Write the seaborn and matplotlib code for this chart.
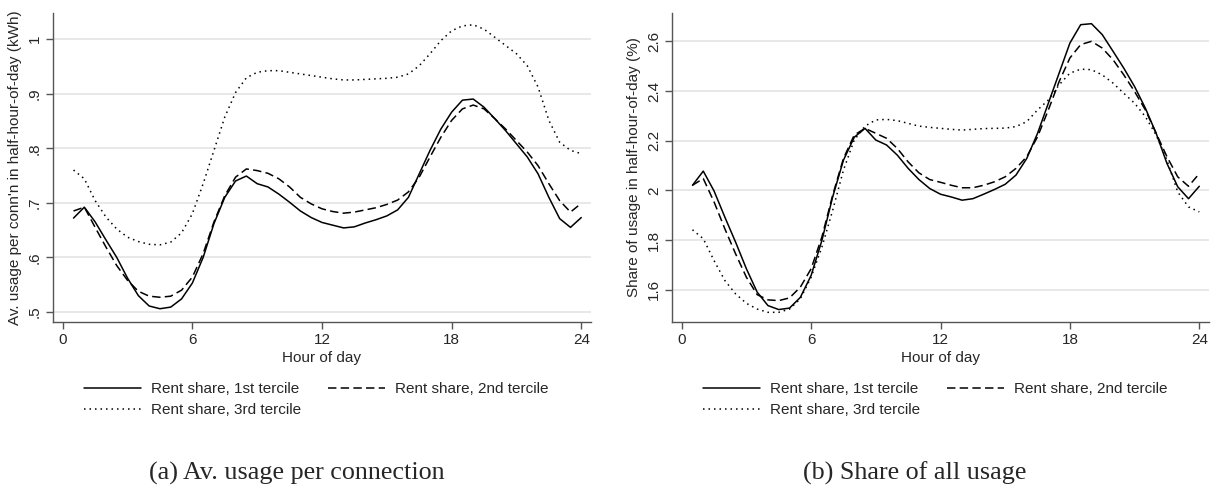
import numpy as np
import pandas as pd
import matplotlib
matplotlib.use("Agg")
import matplotlib.pyplot as plt
import seaborn as sns

# half-hour of day (end of each half-hour slot)
hours = [0.5, 1.0, 1.5, 2.0, 2.5, 3.0, 3.5, 4.0, 4.5, 5.0, 5.5, 6.0,
         6.5, 7.0, 7.5, 8.0, 8.5, 9.0, 9.5, 10.0, 10.5, 11.0, 11.5, 12.0,
         12.5, 13.0, 13.5, 14.0, 14.5, 15.0, 15.5, 16.0, 16.5, 17.0, 17.5, 18.0,
         18.5, 19.0, 19.5, 20.0, 20.5, 21.0, 21.5, 22.0, 22.5, 23.0, 23.5, 24.0]

series_names = ["Rent share, 1st tercile", "Rent share, 2nd tercile", "Rent share, 3rd tercile"]

# (a) average usage per connection (kWh)
usage_t1 = [0.672, 0.692, 0.665, 0.632, 0.600, 0.562, 0.530, 0.511, 0.506, 0.509, 0.524, 0.553,
            0.600, 0.662, 0.710, 0.740, 0.749, 0.735, 0.729, 0.716, 0.701, 0.685, 0.673, 0.664,
            0.659, 0.654, 0.656, 0.663, 0.669, 0.676, 0.687, 0.710, 0.753, 0.796, 0.835, 0.866,
            0.888, 0.890, 0.875, 0.854, 0.832, 0.808, 0.784, 0.753, 0.710, 0.671, 0.655, 0.673]
usage_t2 = [0.685, 0.692, 0.655, 0.619, 0.585, 0.558, 0.538, 0.529, 0.527, 0.529, 0.540, 0.564,
            0.607, 0.665, 0.713, 0.747, 0.762, 0.759, 0.754, 0.744, 0.729, 0.710, 0.698, 0.689,
            0.684, 0.681, 0.683, 0.687, 0.691, 0.697, 0.705, 0.720, 0.747, 0.784, 0.820, 0.851,
            0.872, 0.879, 0.872, 0.854, 0.835, 0.814, 0.793, 0.768, 0.735, 0.704, 0.683, 0.699]
usage_t3 = [0.760, 0.744, 0.704, 0.674, 0.652, 0.637, 0.629, 0.624, 0.623, 0.628, 0.645, 0.680,
            0.735, 0.796, 0.857, 0.902, 0.929, 0.939, 0.942, 0.942, 0.939, 0.936, 0.933, 0.930,
            0.927, 0.925, 0.925, 0.926, 0.927, 0.928, 0.930, 0.936, 0.951, 0.973, 0.997, 1.015,
            1.024, 1.026, 1.018, 1.003, 0.988, 0.973, 0.951, 0.912, 0.851, 0.811, 0.796, 0.790]

# (b) share of daily usage in each half-hour (%)
share_t1 = [2.021, 2.078, 1.998, 1.893, 1.792, 1.685, 1.591, 1.537, 1.521, 1.527, 1.570, 1.658,
            1.799, 1.974, 2.122, 2.214, 2.250, 2.203, 2.183, 2.142, 2.089, 2.044, 2.008, 1.985,
            1.974, 1.961, 1.967, 1.985, 2.004, 2.025, 2.062, 2.129, 2.230, 2.351, 2.472, 2.593,
            2.667, 2.671, 2.627, 2.560, 2.492, 2.418, 2.331, 2.230, 2.109, 2.015, 1.967, 2.017]
share_t2 = [2.021, 2.048, 1.954, 1.846, 1.745, 1.651, 1.581, 1.560, 1.557, 1.568, 1.611, 1.685,
            1.813, 1.981, 2.129, 2.223, 2.250, 2.230, 2.210, 2.169, 2.115, 2.071, 2.044, 2.033,
            2.021, 2.011, 2.011, 2.021, 2.035, 2.055, 2.089, 2.136, 2.216, 2.324, 2.438, 2.533,
            2.587, 2.600, 2.573, 2.526, 2.465, 2.398, 2.324, 2.230, 2.136, 2.055, 2.017, 2.068]
share_t3 = [1.842, 1.806, 1.718, 1.638, 1.584, 1.546, 1.523, 1.510, 1.510, 1.523, 1.564, 1.651,
            1.772, 1.920, 2.082, 2.203, 2.259, 2.284, 2.286, 2.281, 2.270, 2.259, 2.254, 2.250,
            2.246, 2.243, 2.246, 2.249, 2.250, 2.251, 2.257, 2.277, 2.324, 2.364, 2.425, 2.472,
            2.488, 2.486, 2.465, 2.432, 2.391, 2.351, 2.297, 2.223, 2.122, 1.994, 1.934, 1.914]

x_ticks = [0, 6, 12, 18, 24]
usage_ticks = [0.5, 0.6, 0.7, 0.8, 0.9, 1.0]
usage_ticklabels = [".5", ".6", ".7", ".8", ".9", "1"]
share_ticks = [1.6, 1.8, 2.0, 2.2, 2.4, 2.6]
share_ticklabels = ["1.6", "1.8", "2", "2.2", "2.4", "2.6"]


def long_form(a, b, c):
    frames = []
    for name, vals in zip(series_names, [a, b, c]):
        frames.append(pd.DataFrame({"hour": hours, "value": vals, "series": name}))
    return pd.concat(frames, ignore_index=True)


sns.set_theme(style="white")
plt.rcParams["font.family"] = ["Liberation Sans", "DejaVu Sans"]

dash_map = {series_names[0]: "", series_names[1]: (5.5, 2.8), series_names[2]: (1, 2.6)}
axis_col = "#555555"

fig = plt.figure(figsize=(12.21, 4.87), dpi=100)
ax1 = fig.add_axes([53 / 1221, 1 - 322 / 487, 538 / 1221, 309 / 487])
ax2 = fig.add_axes([672 / 1221, 1 - 322 / 487, 537 / 1221, 309 / 487])

panels = [
    (ax1, long_form(usage_t1, usage_t2, usage_t3), usage_ticks, usage_ticklabels,
     (0.4817, 1.0476), "Av. usage per conn'n in half-hour-of-day (kWh)"),
    (ax2, long_form(share_t1, share_t2, share_t3), share_ticks, share_ticklabels,
     (1.471, 2.714), "Share of usage in half-hour-of-day (%)"),
]

for ax, df, yt, ytl, ylim, ylab in panels:
    sns.lineplot(data=df, x="hour", y="value", style="series", dashes=dash_map,
                 color="black", linewidth=1.1, ax=ax, legend=False)
    for yv in yt:
        ax.axhline(yv, color="#e6e6e6", linewidth=1.3, zorder=0)
    ax.set_xlim(-0.45, 24.45)
    ax.set_ylim(*ylim)
    ax.set_xticks(x_ticks)
    ax.set_xticklabels([str(t) for t in x_ticks])
    ax.set_yticks(yt)
    ax.set_yticklabels(ytl, rotation=90, va="center")
    ax.tick_params(axis="both", direction="out", length=5, width=1, color=axis_col,
                   labelsize=11, pad=3, bottom=True, left=True)
    ax.set_xlabel("Hour of day", fontsize=11, labelpad=3)
    ax.set_ylabel(ylab, fontsize=11, labelpad=4)
    for side in ["top", "right"]:
        ax.spines[side].set_visible(False)
    for side in ["left", "bottom"]:
        ax.spines[side].set_color(axis_col)
        ax.spines[side].set_linewidth(1)

    # legend: 1st and 2nd terciles on the first row, 3rd below
    handles = {}
    for n in series_names:
        h = plt.Line2D([], [], color="black", linewidth=1.1)
        if dash_map[n]:
            h.set_dashes(dash_map[n])
        handles[n] = h
    order = [series_names[0], series_names[2], series_names[1]]
    ax.legend([handles[n] for n in order], order, ncol=2, loc="upper left",
              bbox_to_anchor=(31 / 538, -0.195), frameon=False, fontsize=11,
              handlelength=3.75, handletextpad=0.65, columnspacing=1.75,
              labelspacing=0.45, borderpad=0, borderaxespad=0)

fig.text(297 / 1221, 1 - 473 / 487, "(a) Av. usage per connection", ha="center", va="center",
         fontsize=18.8, family="Liberation Serif")
fig.text(915 / 1221, 1 - 473 / 487, "(b) Share of all usage", ha="center", va="center",
         fontsize=18.8, family="Liberation Serif")

fig.savefig("out.png", dpi=100)
